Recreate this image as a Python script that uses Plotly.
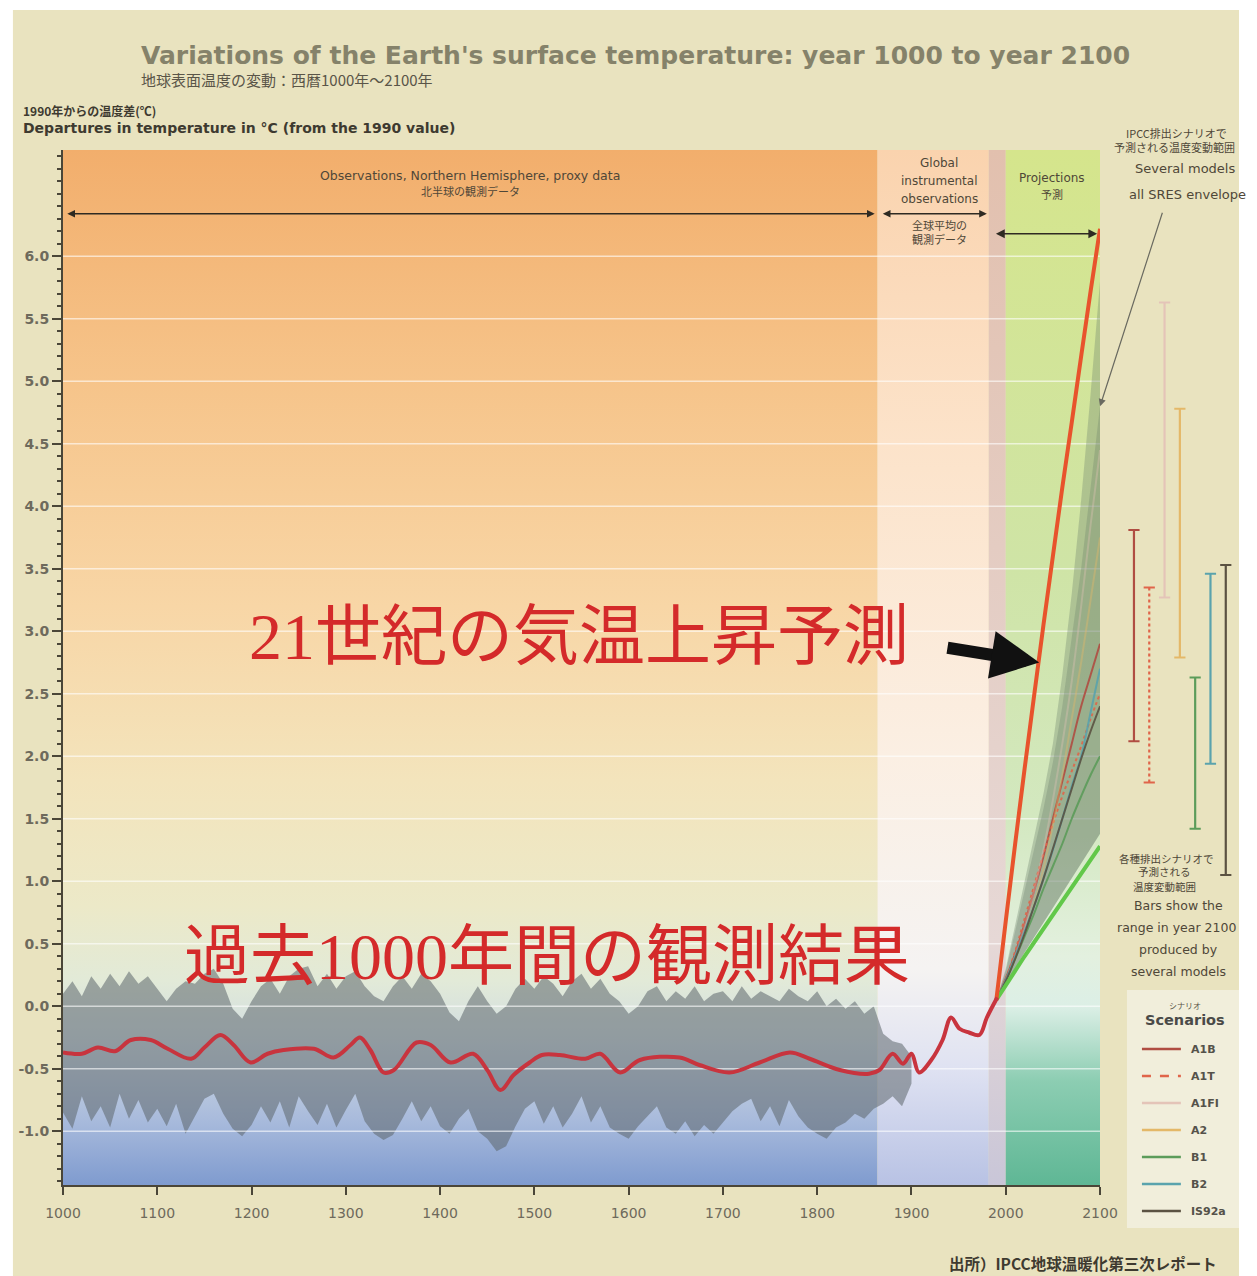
import plotly.graph_objects as go

# ---------------- data ----------------
Y_TICKS = [-1.0, -0.5, 0.0, 0.5, 1.0, 1.5, 2.0, 2.5, 3.0, 3.5, 4.0, 4.5, 5.0, 5.5, 6.0]
Y_TICK_LABELS = ["-1.0", "-0.5", "0.0", "0.5", "1.0", "1.5", "2.0", "2.5", "3.0",
                 "3.5", "4.0", "4.5", "5.0", "5.5", "6.0"]
X_TICKS = [1000, 1100, 1200, 1300, 1400, 1500, 1600, 1700, 1800, 1900, 2000, 2100]

# period boundaries: proxy / instrumental / recent decade / projections
PERIOD_EDGES = [1000, 1864, 1982, 2000, 2100]

# proxy-data uncertainty band (decadal), plus early instrumental scatter
BAND_YEARS = list(range(1000, 1910, 10))
BAND_HIGH = [0.10, 0.20, 0.08, 0.24, 0.14, 0.26, 0.16, 0.28, 0.18, 0.24,
             0.14, 0.04, 0.14, 0.20, 0.18, 0.26, 0.30, 0.18, -0.02, -0.10,
             0.04, 0.16, 0.22, 0.10, 0.24, 0.30, 0.32, 0.16, 0.26, 0.14,
             0.24, 0.28, 0.16, 0.08, 0.04, 0.16, 0.24, 0.14, 0.26, 0.20,
             0.10, -0.05, -0.12, 0.04, 0.16, 0.04, -0.06, 0.00, 0.14, 0.22,
             0.14, 0.24, 0.18, 0.08, 0.20, 0.26, 0.14, 0.22, 0.10, 0.04,
             -0.06, 0.00, 0.12, 0.16, 0.04, 0.12, 0.06, 0.16, 0.04, 0.10,
             0.12, 0.04, 0.16, 0.06, 0.12, 0.08, 0.04, 0.14, 0.08, 0.04,
             0.12, 0.00, 0.06, -0.02, 0.04, -0.06, 0.00,
             -0.22, -0.28, -0.30, -0.40]
BAND_LOW = [-0.85, -0.98, -0.72, -0.92, -0.80, -0.97, -0.70, -0.90, -0.75, -0.93,
            -0.82, -0.96, -0.78, -1.02, -0.88, -0.74, -0.70, -0.86, -0.98, -1.04,
            -0.95, -0.80, -0.93, -0.76, -0.97, -0.72, -0.84, -0.95, -0.78, -0.97,
            -0.83, -0.70, -0.92, -1.02, -1.07, -1.03, -0.90, -0.76, -0.92, -0.80,
            -0.96, -1.02, -0.90, -0.82, -1.00, -1.06, -1.16, -1.12, -0.96, -0.82,
            -0.76, -0.94, -0.80, -0.97, -0.86, -0.72, -0.93, -0.80, -0.97, -1.02,
            -1.06, -0.96, -0.88, -0.80, -0.97, -1.02, -0.92, -1.04, -0.95, -1.02,
            -0.93, -0.84, -0.78, -0.74, -0.92, -0.80, -0.96, -0.75, -0.88, -0.97,
            -1.02, -1.06, -0.97, -0.93, -0.86, -0.90, -0.82,
            -0.78, -0.72, -0.80, -0.62]

# smoothed Northern Hemisphere record joined to the instrumental record
HIST_YEARS = [1000, 1020, 1037, 1055, 1072, 1093, 1111, 1136, 1150, 1167,
              1181, 1199, 1217, 1234, 1266, 1287, 1305, 1315, 1326, 1340,
              1351, 1375, 1390, 1411, 1435, 1450, 1464, 1478, 1495, 1508,
              1527, 1554, 1570, 1591, 1612, 1654, 1675, 1707, 1739, 1771,
              1792, 1824, 1855, 1866, 1880, 1891, 1900, 1908, 1921, 1933,
              1942, 1951, 1961, 1972, 1980, 1991]
HIST_TEMP = [-0.37, -0.38, -0.33, -0.36, -0.27, -0.27, -0.34, -0.42, -0.33, -0.23,
             -0.31, -0.45, -0.38, -0.35, -0.34, -0.41, -0.31, -0.25, -0.35, -0.53,
             -0.51, -0.29, -0.31, -0.45, -0.38, -0.51, -0.67, -0.55, -0.45, -0.39,
             -0.39, -0.42, -0.38, -0.53, -0.43, -0.41, -0.47, -0.53, -0.45, -0.37,
             -0.42, -0.51, -0.54, -0.51, -0.38, -0.46, -0.38, -0.53, -0.43, -0.27,
             -0.09, -0.18, -0.21, -0.23, -0.09, 0.07]

# projections, 1990-2100
PROJ_YEARS = [1990, 2000, 2010, 2020, 2030, 2040, 2050, 2060, 2070, 2080, 2090, 2100]
PROJ_UPPER = [0.05, 0.68, 1.30, 1.90, 2.48, 3.05, 3.60, 4.15, 4.67, 5.20, 5.72, 6.22]
PROJ_LOWER = [0.05, 0.17, 0.29, 0.40, 0.51, 0.62, 0.73, 0.84, 0.95, 1.06, 1.17, 1.28]
ENVELOPE_OUTER_HIGH = [0.05, 0.30, 0.65, 1.00, 1.35, 1.70, 2.10, 2.65, 3.30, 4.05, 4.90, 5.80]
ENVELOPE_INNER_HIGH = [0.05, 0.28, 0.60, 0.92, 1.25, 1.58, 1.95, 2.40, 2.95, 3.50, 4.15, 4.80]
ENVELOPE_LOW = [0.05, 0.18, 0.31, 0.43, 0.55, 0.67, 0.79, 0.91, 1.03, 1.15, 1.27, 1.38]

SCENARIOS = ["A1B", "A1T", "A1FI", "A2", "B1", "B2", "IS92a"]
SCENARIO_COLORS = ["#b04d42", "#e0654a", "#e4c4b8", "#e4b868", "#5c9c5a", "#5aa3ad", "#5b5242"]
SCENARIO_DASH = ["solid", "dot", "solid", "solid", "solid", "solid", "solid"]
SCENARIO_PATHS = [
    [0.05, 0.22, 0.42, 0.66, 0.92, 1.20, 1.50, 1.80, 2.10, 2.40, 2.65, 2.90],
    [0.05, 0.22, 0.44, 0.70, 0.96, 1.22, 1.46, 1.68, 1.88, 2.08, 2.30, 2.50],
    [0.05, 0.20, 0.40, 0.64, 0.92, 1.25, 1.65, 2.10, 2.60, 3.20, 3.85, 4.45],
    [0.05, 0.20, 0.38, 0.58, 0.82, 1.10, 1.45, 1.85, 2.30, 2.75, 3.25, 3.75],
    [0.05, 0.20, 0.38, 0.56, 0.74, 0.94, 1.12, 1.30, 1.50, 1.68, 1.85, 2.00],
    [0.05, 0.21, 0.40, 0.60, 0.80, 1.02, 1.25, 1.50, 1.76, 2.00, 2.35, 2.70],
    [0.05, 0.20, 0.38, 0.58, 0.80, 1.02, 1.26, 1.50, 1.74, 1.98, 2.20, 2.40],
]
SCENARIO_PATH_OPACITY = [0.9, 0.9, 0.35, 0.4, 0.9, 0.9, 0.9]
# range in 2100 across several models
BAR_LOW = [2.12, 1.79, 3.27, 2.79, 1.42, 1.94, 1.05]
BAR_HIGH = [3.81, 3.35, 5.63, 4.78, 2.63, 3.46, 3.53]

# ---------------- layout helpers ----------------
W, H = 1257, 1276
# the page is shown next to a 17px scrollbar, so horizontal layout positions
# are spread by this factor to land where intended
K = (W + 17) / W
ML, MR, MT, MB = 63, 0, 150, 91
PW, PH = W - ML - MR, H - MT - MB
Y_MIN, Y_MAX = -1.43, 6.85
MAIN_RIGHT = (1101 * K - ML) / PW

EN = "DejaVu Sans"
JP = "Noto Sans CJK JP"
INK = "#4f4738"


def px(x):
    return (x * K - ML) / PW


def py(y):
    return (H - MB - y) / PH


def scale(stops):
    return [[(v - Y_MIN) / (Y_MAX - Y_MIN), c] for v, c in stops]


PERIOD_SCALES = [
    [(Y_MIN, "#7f9bcf"), (-0.9, "#a9bbdc"), (-0.3, "#cfdbe2"), (0.2, "#e2ead8"),
     (0.8, "#ece9c8"), (1.8, "#f3e4bc"), (3.2, "#f8d6a6"), (5.0, "#f6c48a"), (Y_MAX, "#f2ae6c")],
    [(Y_MIN, "#b8c2e4"), (-0.5, "#dfe2f2"), (0.3, "#f5f3f2"), (2.0, "#fbefe3"),
     (4.5, "#fce3ca"), (Y_MAX, "#fad3ae")],
    [(Y_MIN, "#c9c6d8"), (0.5, "#e6d8d6"), (Y_MAX, "#e2c0ae")],
    [(Y_MIN, "#5fb795"), (-0.6, "#8ccdb2"), (0.0, "#dcefe6"), (0.4, "#e3f0df"),
     (1.5, "#d3e8c0"), (3.5, "#cfe4a6"), (Y_MAX, "#d5e58c")],
]

fig = go.Figure()

# background bands for the three periods
for i, stops in enumerate(PERIOD_SCALES):
    x0, x1 = PERIOD_EDGES[i], PERIOD_EDGES[i + 1]
    fig.add_trace(go.Scatter(
        x=[x0, x1, x1, x0, x0], y=[Y_MIN, Y_MIN, Y_MAX, Y_MAX, Y_MIN],
        mode="lines", line=dict(width=0), fill="toself",
        fillgradient=dict(type="vertical", colorscale=scale(stops), start=Y_MIN, stop=Y_MAX),
        hoverinfo="skip", showlegend=False))

# proxy uncertainty band
fig.add_trace(go.Scatter(x=BAND_YEARS, y=BAND_HIGH, mode="lines", line=dict(width=0),
                         hoverinfo="skip", showlegend=False))
fig.add_trace(go.Scatter(x=BAND_YEARS, y=BAND_LOW, mode="lines", line=dict(width=0),
                         fill="tonexty", fillcolor="rgba(92,102,108,0.55)",
                         hoverinfo="skip", showlegend=False))

# faint white grid
gx, gy = [], []
for v in Y_TICKS:
    gx += [PERIOD_EDGES[0], PERIOD_EDGES[-1], None]
    gy += [v, v, None]
fig.add_trace(go.Scatter(x=gx, y=gy, mode="lines",
                         line=dict(color="rgba(255,255,255,0.6)", width=1.5),
                         hoverinfo="skip", showlegend=False))

# projection envelopes
for hi, col in [(ENVELOPE_OUTER_HIGH, "rgba(112,132,110,0.35)"),
                (ENVELOPE_INNER_HIGH, "rgba(92,112,96,0.25)")]:
    fig.add_trace(go.Scatter(x=PROJ_YEARS, y=hi, mode="lines", line=dict(width=0),
                             hoverinfo="skip", showlegend=False))
    fig.add_trace(go.Scatter(x=PROJ_YEARS, y=ENVELOPE_LOW, mode="lines", line=dict(width=0),
                             fill="tonexty", fillcolor=col, hoverinfo="skip", showlegend=False))

# scenario ensemble paths
for name, col, dash, path, op in zip(SCENARIOS, SCENARIO_COLORS, SCENARIO_DASH,
                                     SCENARIO_PATHS, SCENARIO_PATH_OPACITY):
    fig.add_trace(go.Scatter(x=PROJ_YEARS, y=path, mode="lines", opacity=op,
                             line=dict(color=col, width=2, dash=dash, shape="spline"),
                             name=name, showlegend=False))

# upper and lower projection limits
fig.add_trace(go.Scatter(x=PROJ_YEARS, y=PROJ_LOWER, mode="lines",
                         line=dict(color="#62c84a", width=4), showlegend=False))
fig.add_trace(go.Scatter(x=PROJ_YEARS, y=PROJ_UPPER, mode="lines",
                         line=dict(color="#e8532c", width=4, shape="spline"), showlegend=False))

# observed record
fig.add_trace(go.Scatter(x=HIST_YEARS, y=HIST_TEMP, mode="lines",
                         line=dict(color="#c8343e", width=4, shape="spline", smoothing=1.0),
                         showlegend=False))

# 2100 range bars (side panel)
for i, (name, col, dash) in enumerate(zip(SCENARIOS, SCENARIO_COLORS, SCENARIO_DASH)):
    fig.add_trace(go.Scatter(
        x=[i, i], y=[BAR_LOW[i], BAR_HIGH[i]], xaxis="x2", yaxis="y2",
        mode="lines+markers", line=dict(color=col, width=2.2, dash=dash),
        marker=dict(symbol="line-ew-open", size=8, line=dict(color=col, width=2)),
        name=name, showlegend=False))

# ---------------- annotations ----------------
ann = []


def note(x, y, text, size, color=INK, family=EN, weight="normal", xanchor="center"):
    ann.append(dict(x=px(x), y=py(y), xref="paper", yref="paper", text=text,
                    showarrow=False, xanchor=xanchor, yanchor="middle",
                    font=dict(family=family, size=size, color=color, weight=weight)))


# title block
note(636, 55, "Variations of the Earth's surface temperature: year 1000 to year 2100",
     25, "#85826a", EN, "bold")
note(138, 79, "地球表面温度の変動：西暦1000年～2100年", 15, "#5a5548", JP, xanchor="left")
note(20, 111, "1990年からの温度差(℃)", 12, "#3e3a30", JP, "bold", xanchor="left")
note(20, 128, "Departures in temperature in °C (from the 1990 value)", 14,
     "#3e3a30", EN, "bold", xanchor="left")

# period labels
note(470, 175, "Observations, Northern Hemisphere, proxy data", 12.5)
note(470, 191, "北半球の観測データ", 11, family=JP)
note(940, 163, "Global", 12)
note(940, 181, "instrumental", 12)
note(940, 199, "observations", 12)
note(940, 225, "全球平均の", 11, family=JP)
note(940, 239, "観測データ", 11, family=JP)
note(1053, 178, "Projections", 12)
note(1053, 194, "予測", 11, family=JP)

# right-hand notes
note(1178, 133, "IPCC排出シナリオで", 11, family=JP)
note(1176, 147, "予測される温度変動範囲", 11, family=JP)
note(1186, 168, "Several models", 13)
note(1128, 194, "all SRES envelope", 13, xanchor="left")
note(1168, 858, "各種排出シナリオで", 10.5, family=JP)
note(1166, 872, "予測される", 10.5, family=JP)
note(1166, 886, "温度変動範囲", 10.5, family=JP)
note(1180, 905, "Bars show the", 12.5)
note(1178, 927, "range in year 2100", 12.5)
note(1180, 949, "produced by", 12.5)
note(1180, 971, "several models", 12.5)

# big highlights
note(579, 636, "21世紀の気温上昇予測", 66, "#d42a2a", "Liberation Serif, " + JP)
note(547, 956, "過去1000年間の観測結果", 66, "#d42a2a", "Liberation Serif, " + JP)

# source
note(1084, 1263, "出所）IPCC地球温暖化第三次レポート", 15.5, "#3e3a30", JP, "bold")

# period spans (double arrows)
span_y = 6.34
for a, b in [(PERIOD_EDGES[0] + 3, PERIOD_EDGES[1] - 3), (PERIOD_EDGES[1] + 4, PERIOD_EDGES[2] - 2)]:
    ann.append(dict(x=b, y=span_y, ax=a, ay=span_y, xref="x", yref="y", axref="x", ayref="y",
                    text="", showarrow=True, arrowhead=2, arrowside="end+start",
                    arrowsize=1.1, arrowwidth=1.4, arrowcolor="#2e2a22"))
ann.append(dict(x=PERIOD_EDGES[-1] - 3, y=6.18, ax=PERIOD_EDGES[2] + 6, ay=6.18,
                xref="x", yref="y", axref="x", ayref="y", text="", showarrow=True,
                arrowhead=2, arrowside="end+start", arrowsize=1.1, arrowwidth=1.6,
                arrowcolor="#2e2a22"))

# pointer from the envelope note
ann.append(dict(x=2100, y=4.8, xref="x", yref="y", ax=62 * K, ay=-195, text="",
                showarrow=True, arrowhead=2, arrowsize=1.2, arrowwidth=1.2,
                arrowcolor="#6a6a60"))

# heavy arrow towards the projection
ann.append(dict(x=2035.5, y=2.75, xref="x", yref="y", ax=-92 * K, ay=-15, text="",
                showarrow=True, arrowhead=2, arrowsize=0.8, arrowwidth=12,
                arrowcolor="#111111"))

# scenario key
shapes = [
    dict(type="rect", xref="paper", yref="paper", x0=px(12), x1=1, y0=py(1276), y1=py(10),
         fillcolor="#e9e3bf", line=dict(width=0), layer="below"),
    dict(type="rect", xref="paper", yref="paper", x0=px(1128), x1=1, y0=py(1228), y1=py(990),
         fillcolor="#f1eedb", line=dict(width=0), layer="below"),
]
note(1186, 1005, "シナリオ", 8, "#5a5548", JP)
note(1186, 1020, "Scenarios", 14.5, "#4a4a48", EN, "bold")
for i, (name, col, dash) in enumerate(zip(SCENARIOS, SCENARIO_COLORS, SCENARIO_DASH)):
    yy = 1049 + 27 * i
    shapes.append(dict(type="line", xref="paper", yref="paper", x0=px(1143), x1=px(1182),
                       y0=py(yy), y1=py(yy),
                       line=dict(color=col, width=2.5, dash="dash" if dash != "solid" else "solid")))
    note(1190, yy, name, 11, "#55524a", EN, "bold", xanchor="left")

# side panel: bar slots spaced evenly from the 2100 edge to the page edge
bar_first = 1135 * K
bar_step = 15.33 * K
x2_lo = -(bar_first - 1101 * K) / bar_step
x2_hi = (W - bar_first) / bar_step

axis_col = "#4a4638"
fig.update_layout(
    width=W, height=H, autosize=False,
    margin=dict(l=ML, r=MR, t=MT, b=MB, pad=0),
    paper_bgcolor="white", plot_bgcolor="rgba(0,0,0,0)",
    showlegend=False,
    xaxis=dict(domain=[0, MAIN_RIGHT], range=[PERIOD_EDGES[0], PERIOD_EDGES[-1]],
               tickvals=X_TICKS, ticks="outside", ticklen=8, tickwidth=1.5, tickcolor=axis_col,
               showline=True, linecolor=axis_col, linewidth=2, showgrid=False, zeroline=False,
               ticklabelstandoff=6,
               tickfont=dict(family=EN, size=14, color="#6e6a5c")),
    yaxis=dict(range=[Y_MIN, Y_MAX], tickvals=Y_TICKS, ticktext=Y_TICK_LABELS,
               ticks="outside", ticklen=9, tickwidth=1.5, tickcolor=axis_col,
               showline=True, linecolor=axis_col, linewidth=2, showgrid=False, zeroline=False,
               minor=dict(tickmode="array",
                          tickvals=[round(-1.4 + 0.1 * k, 1) for k in range(83)],
                          ticks="outside", ticklen=4, tickcolor=axis_col, showgrid=False),
               tickfont=dict(family=EN, size=14, color="#6e6a5c", weight="bold")),
    xaxis2=dict(domain=[MAIN_RIGHT, 1], range=[x2_lo, x2_hi], visible=False),
    yaxis2=dict(range=[Y_MIN, Y_MAX], anchor="x2", visible=False),
    annotations=ann,
    shapes=shapes,
)

fig.write_html("out.html", config={"responsive": False})
